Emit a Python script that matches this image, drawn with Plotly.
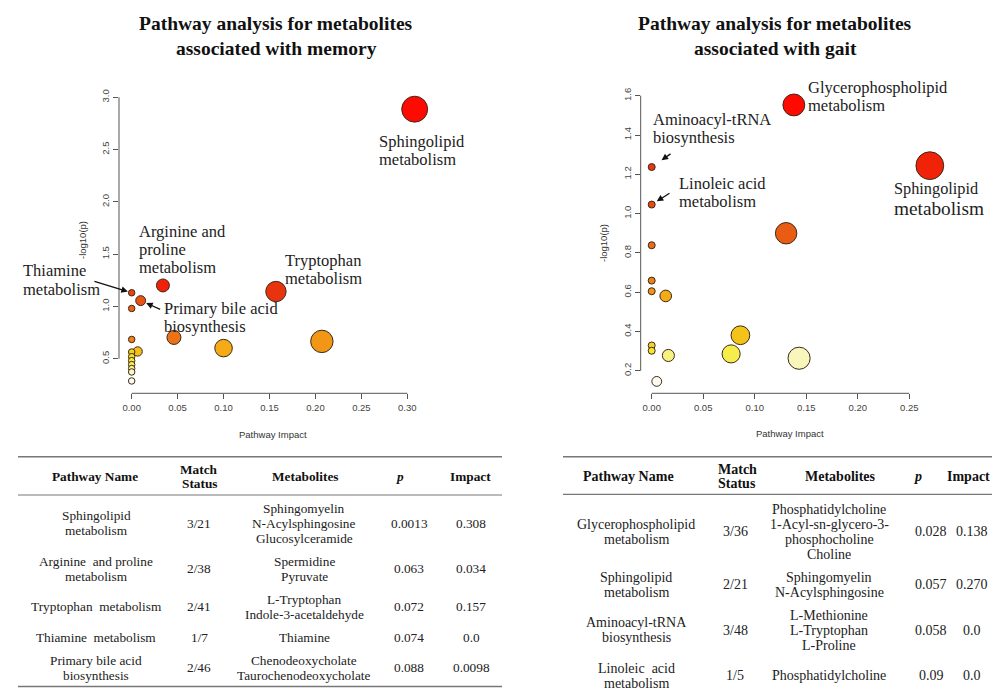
import math
import plotly.graph_objects as go

# The page body has an 8px default margin; the figure is sized/offset so the
# screenshot of the 1000x688 window maps 1:1 onto the reference coordinates.
OFF = 8
W, H = 1000 - OFF, 688 - OFF


def px(x):
    return (x - OFF) / W


def py(y):
    return 1 - (y - OFF) / H


# ---------------- data: scatter plots ----------------
mem_impact = [0.308, 0.034, 0.157, 0.0, 0.0098, 0.0, 0.046, 0.207, 0.100,
              0.0, 0.0065, 0.0, 0.0, 0.0, 0.0, 0.0, 0.0, 0.0]
mem_logp = [2.886, 1.201, 1.143, 1.131, 1.056, 0.981, 0.704, 0.666, 0.602,
            0.685, 0.570, 0.565, 0.520, 0.482, 0.444, 0.407, 0.374, 0.288]
mem_labels = ["Sphingolipid\nmetabolism", "Arginine and\nproline\nmetabolism",
              "Tryptophan\nmetabolism", "Thiamine\nmetabolism",
              "Primary bile acid\nbiosynthesis"]
mem_xticks = [0.00, 0.05, 0.10, 0.15, 0.20, 0.25, 0.30]
mem_yticks = [0.5, 1.0, 1.5, 2.0, 2.5, 3.0]

gait_impact = [0.138, 0.270, 0.0, 0.0, 0.1305, 0.0, 0.0, 0.0, 0.0136,
               0.0861, 0.0, 0.0, 0.0771, 0.0162, 0.1431, 0.0049]
gait_logp = [1.553, 1.244, 1.237, 1.046, 0.900, 0.839, 0.659, 0.605, 0.581,
             0.381, 0.329, 0.302, 0.286, 0.278, 0.264, 0.146]
gait_labels = ["Glycerophospholipid\nmetabolism", "Sphingolipid\nmetabolism",
               "Aminoacyl-tRNA\nbiosynthesis", "Linoleic acid\nmetabolism"]
gait_xticks = [0.00, 0.05, 0.10, 0.15, 0.20, 0.25]
gait_yticks = [0.2, 0.4, 0.6, 0.8, 1.0, 1.2, 1.4, 1.6]

titles = ["Pathway analysis for metabolites\nassociated with memory",
          "Pathway analysis for metabolites\nassociated with gait"]
x_title = "Pathway Impact"
y_title = "-log10(p)"

# ---------------- data: tables ----------------
table_header = ["Pathway Name", "Match\nStatus", "Metabolites", "p", "Impact"]

mem_tab_name = ["Sphingolipid\nmetabolism", "Arginine  and proline\nmetabolism",
                "Tryptophan  metabolism", "Thiamine  metabolism",
                "Primary bile acid\nbiosynthesis"]
mem_tab_match = ["3/21", "2/38", "2/41", "1/7", "2/46"]
mem_tab_metab = ["Sphingomyelin\nN-Acylsphingosine\nGlucosylceramide",
                 "Spermidine\nPyruvate",
                 "L-Tryptophan\nIndole-3-acetaldehyde",
                 "Thiamine",
                 "Chenodeoxycholate\nTaurochenodeoxycholate"]
mem_tab_p = ["0.0013", "0.063", "0.072", "0.074", "0.088"]
mem_tab_impact = ["0.308", "0.034", "0.157", "0.0", "0.0098"]

gait_tab_name = ["Glycerophospholipid\nmetabolism", "Sphingolipid\nmetabolism",
                 "Aminoacyl-tRNA\nbiosynthesis", "Linoleic  acid\nmetabolism"]
gait_tab_match = ["3/36", "2/21", "3/48", "1/5"]
gait_tab_metab = ["Phosphatidylcholine\n1-Acyl-sn-glycero-3-\nphosphocholine\nCholine",
                  "Sphingomyelin\nN-Acylsphingosine",
                  "L-Methionine\nL-Tryptophan\nL-Proline",
                  "Phosphatidylcholine"]
gait_tab_p = ["0.028", "0.057", "0.058", "0.09"]
gait_tab_impact = ["0.138", "0.270", "0.0", "0.0"]

# ---------------- styles ----------------
SERIF = "Liberation Serif"
SANS = "Liberation Sans"
HEAT = [[0.0, "#fdfaf0"], [0.07, "#f9f6b8"], [0.14, "#f8f07a"], [0.22, "#f7ec3a"],
        [0.32, "#f4da22"], [0.42, "#f4bd18"], [0.5, "#f4a015"], [0.58, "#ee8418"],
        [0.66, "#ec6e18"], [0.74, "#ea5a14"], [0.82, "#e84410"], [0.9, "#e8300e"],
        [1.0, "#ff0a00"]]
AXC = "#555555"


def rank_norm(vals):
    order = sorted(range(len(vals)), key=lambda i: vals[i])
    r = [0.0] * len(vals)
    for k, i in enumerate(order):
        r[i] = k / (len(vals) - 1)
    return r


fig = go.Figure()

fig.add_trace(go.Scatter(
    x=mem_impact, y=mem_logp, mode="markers", xaxis="x", yaxis="y",
    cliponaxis=False, hoverinfo="x+y",
    marker=dict(size=[6.5 + 35 * math.sqrt(v) for v in mem_impact],
                color=rank_norm(mem_logp), colorscale=HEAT, cmin=0, cmax=1,
                line=dict(color="#3a2a1a", width=1), opacity=1),
))
fig.add_trace(go.Scatter(
    x=gait_impact, y=gait_logp, mode="markers", xaxis="x2", yaxis="y2",
    cliponaxis=False, hoverinfo="x+y",
    marker=dict(size=[7 + 40 * math.sqrt(v) for v in gait_impact],
                color=rank_norm(gait_logp), colorscale=HEAT, cmin=0, cmax=1,
                line=dict(color="#3a2a1a", width=1), opacity=1),
))

tickfont = dict(family=SANS, size=9.5, color="#444")
common_ax = dict(showgrid=False, zeroline=False, showline=False, ticks="outside",
                 ticklen=5, tickwidth=1, tickcolor=AXC, tickfont=tickfont)

fig.update_layout(
    width=W, height=H, margin=dict(l=0, r=0, t=0, b=0),
    paper_bgcolor="white", plot_bgcolor="white", showlegend=False,
    xaxis=dict(domain=[px(119), px(420)], range=[-0.0138, 0.3138], anchor="y",
               tickvals=mem_xticks, ticktext=[f"{v:.2f}" for v in mem_xticks], **common_ax),
    yaxis=dict(domain=[py(393.3), py(80)], range=[0.170, 3.165], anchor="x",
               tickvals=mem_yticks, ticktext=[f"{v:.1f}" for v in mem_yticks],
               tickangle=-90, **common_ax),
    xaxis2=dict(domain=[px(640.7), px(960)], range=[-0.01068, 0.2993], anchor="y2",
                tickvals=gait_xticks, ticktext=[f"{v:.2f}" for v in gait_xticks], **common_ax),
    yaxis2=dict(domain=[py(393.3), py(80)], range=[0.0855, 1.68], anchor="x2",
                tickvals=gait_yticks, ticktext=[f"{v:.1f}" for v in gait_yticks],
                tickangle=-90, **common_ax),
)

shapes = []
annots = []

# R-style axis lines spanning first..last tick
for xa, ya, xt, yt in [("x", "y", mem_xticks, mem_yticks), ("x2", "y2", gait_xticks, gait_yticks)]:
    shapes.append(dict(type="line", xref=xa, yref=f"{ya} domain", x0=xt[0], x1=xt[-1],
                       y0=0, y1=0, line=dict(color=AXC, width=1)))
    shapes.append(dict(type="line", xref=f"{xa} domain", yref=ya, x0=0, x1=0,
                       y0=yt[0], y1=yt[-1], line=dict(color=AXC, width=1)))

# axis titles
axis_title_font = dict(family=SANS, size=9.5, color="#333")
for xc, yc in [(273, 434), (790, 433)]:
    annots.append(dict(text=x_title, x=px(xc), y=py(yc), xref="paper", yref="paper",
                       showarrow=False, xanchor="center", yanchor="middle", font=axis_title_font))
for xc, yc in [(82, 240), (603, 243)]:
    annots.append(dict(text=y_title, x=px(xc), y=py(yc), xref="paper", yref="paper",
                       showarrow=False, textangle=-90, xanchor="center", yanchor="middle",
                       font=axis_title_font))

# chart titles
for t, xc in zip(titles, [276, 775]):
    for j, line in enumerate(t.split("\n")):
        annots.append(dict(text=f"<b>{line}</b>", x=px(xc), y=py(23 + 25 * j),
                           xref="paper", yref="paper", showarrow=False,
                           xanchor="center", yanchor="middle",
                           font=dict(family=SERIF, size=19.5, color="#111")))

# point labels: (dx, dy of first line, line spacing, sizes)
mem_lab_style = [(-37, 32.7, 17.5, None), (-25, -54, 17.8, None), (8, -31.5, 18.3, None),
                 (-110, -21.8, 18.3, None), (22, 7.7, 17.7, None)]
gait_lab_style = [(13.6, -17.6, 18.3, None), (-36.5, 23, 20.3, [16.3, 19.3]),
                  (0, -47.9, 18, None), (26.3, -21, 18.4, None)]


def add_labels(labels, xs, ys, xa, ya, styles):
    for i, (lab, st) in enumerate(zip(labels, styles)):
        dx, dy, lh, sizes = st
        for j, line in enumerate(lab.split("\n")):
            size = sizes[j] if sizes else 16.5
            annots.append(dict(text=line, x=xs[i], y=ys[i], xref=xa, yref=ya,
                               showarrow=False, xanchor="left", yanchor="middle",
                               xshift=dx, yshift=-(dy + j * lh), borderpad=0,
                               font=dict(family=SERIF, size=size, color="#222")))


add_labels(mem_labels, mem_impact, mem_logp, "x", "y", mem_lab_style)
add_labels(gait_labels, gait_impact, gait_logp, "x2", "y2", gait_lab_style)

# arrows: (point index, ax, ay, standoff)
for xs, ys, xa, ya, arrows in [
        (mem_impact, mem_logp, "x", "y", [(3, -38.7, -11.8, 4), (4, 21, 9.4, 6)]),
        (gait_impact, gait_logp, "x2", "y2", [(2, 20.3, -14.2, 12), (3, 19.3, -12.3, 6)])]:
    for i, ax, ay, so in arrows:
        annots.append(dict(text="", x=xs[i], y=ys[i], xref=xa, yref=ya, showarrow=True,
                           ax=ax, ay=ay, arrowhead=2, arrowsize=1, arrowwidth=1.3,
                           arrowcolor="#111", standoff=so))


# ---------------- tables ----------------
def draw_table(cols, head_x, body_x, rule_x, top_y, head_y, start_y, bottom_rule,
               fsize, line_h):
    rule_line = dict(color="#777", width=1.6)
    shapes.append(dict(type="line", xref="paper", yref="paper", x0=px(rule_x[0]), x1=px(rule_x[1]),
                       y0=py(top_y), y1=py(top_y), line=rule_line))
    shapes.append(dict(type="line", xref="paper", yref="paper", x0=px(rule_x[0]), x1=px(rule_x[1]),
                       y0=py(head_y), y1=py(head_y), line=dict(color="#777", width=1.2)))
    head_c = (top_y + head_y) / 2 + 1
    for h, xc in zip(table_header, head_x):
        lines = h.split("\n")
        for j, line in enumerate(lines):
            yy = head_c + (j - (len(lines) - 1) / 2) * 14
            txt = f"<b><i>{line}</i></b>" if line == "p" else f"<b>{line}</b>"
            annots.append(dict(text=txt, x=px(xc), y=py(yy), xref="paper", yref="paper",
                               showarrow=False, xanchor="center", yanchor="middle",
                               font=dict(family=SERIF, size=fsize, color="#111")))
    y = start_y
    nrows = len(cols[0])
    for r in range(nrows):
        cells = [c[r].split("\n") for c in cols]
        n = max(len(c) for c in cells)
        h = 8 + line_h * n
        yc = y + h / 2
        for lines, xc in zip(cells, body_x):
            for j, line in enumerate(lines):
                yy = yc + (j - (len(lines) - 1) / 2) * line_h
                annots.append(dict(text=line, x=px(xc), y=py(yy), xref="paper", yref="paper",
                                   showarrow=False, xanchor="center", yanchor="middle",
                                   font=dict(family=SERIF, size=fsize, color="#222")))
        y += h
    if bottom_rule:
        shapes.append(dict(type="line", xref="paper", yref="paper", x0=px(rule_x[0]),
                           x1=px(rule_x[1]), y0=py(y), y1=py(y), line=rule_line))


draw_table([mem_tab_name, mem_tab_match, mem_tab_metab, mem_tab_p, mem_tab_impact],
           [95, 199, 305, 400, 470], [96, 199, 304, 409, 471], (18, 502),
           456.7, 495, 496.5, True, 13.3, 15)
draw_table([gait_tab_name, gait_tab_match, gait_tab_metab, gait_tab_p, gait_tab_impact],
           [628, 737, 840, 918, 968], [636, 735, 829, 931, 972], (563, 1000),
           456.7, 494.3, 497.7, False, 14, 15)

fig.update_layout(shapes=shapes, annotations=annots)
fig.write_html("out.html")
